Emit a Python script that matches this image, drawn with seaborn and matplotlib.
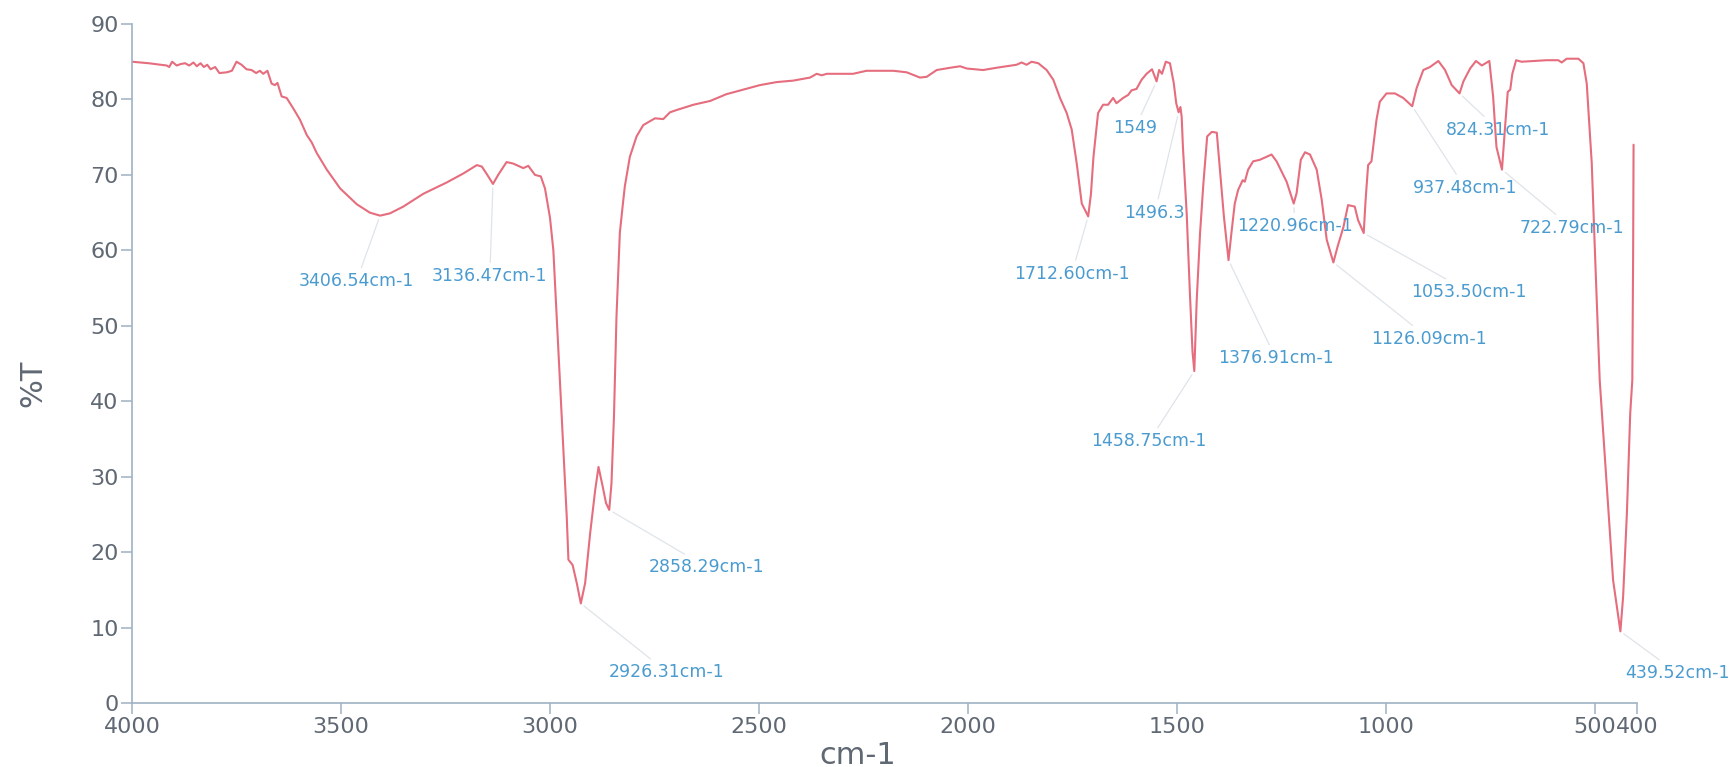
import matplotlib
matplotlib.use("Agg")
import matplotlib.pyplot as plt
import pandas as pd
import seaborn as sns

# FTIR transmittance spectrum (wavenumber in cm-1, %T)
wavenumber = [
    4000, 3960, 3917, 3911, 3904, 3893, 3883, 3873, 3863, 3853, 3845, 3836, 3828,
    3820, 3812, 3801, 3791, 3773, 3761, 3750, 3738, 3726, 3714, 3703, 3694, 3686,
    3676, 3666, 3658, 3652, 3642, 3630, 3614, 3598, 3582, 3570, 3558, 3534, 3502,
    3462, 3431, 3406.54, 3383, 3351, 3303, 3247, 3207, 3175, 3163, 3150, 3136.47,
    3124, 3104, 3088, 3076, 3064, 3052, 3036, 3022, 3012, 3000, 2992, 2984, 2976,
    2968, 2960, 2956, 2946, 2936, 2926.31, 2916, 2904, 2892, 2884, 2874, 2866,
    2858.29, 2853, 2847, 2841, 2833, 2826, 2821, 2809, 2793, 2777, 2749, 2729,
    2713, 2697, 2657, 2617, 2578, 2538, 2498, 2458, 2418, 2378, 2362, 2350, 2338,
    2275, 2243, 2179, 2147, 2115, 2099, 2075, 2043, 2019, 2003, 1964, 1932, 1884,
    1872, 1860, 1848, 1832, 1812, 1796, 1780, 1764, 1752, 1740, 1728, 1712.60,
    1706, 1700, 1689, 1677, 1665, 1653, 1645, 1629, 1617, 1609, 1597, 1585, 1573,
    1560, 1549, 1543, 1536, 1527, 1517, 1508, 1502, 1496.3, 1492, 1489, 1486,
    1477, 1469, 1463, 1458.75, 1453, 1445, 1437, 1428, 1417, 1405, 1398, 1388,
    1376.91, 1370, 1362, 1354, 1343, 1338, 1330, 1318, 1302, 1274, 1262, 1246,
    1238, 1220.96, 1214, 1204, 1194, 1182, 1166, 1154, 1142, 1126.09, 1116, 1102,
    1091, 1075, 1067, 1053.50, 1049, 1043, 1035, 1023, 1015, 999, 979, 959,
    937.48, 927, 911, 895, 875, 859, 843, 824.31, 815, 799, 785, 771, 753, 744,
    736, 722.79, 716, 709, 703, 698, 689, 676, 616, 588, 580, 568, 540, 528, 520,
    508, 500, 489, 473, 457, 439.52, 433, 424, 416, 411, 409, 408,
]
transmittance = [
    85.0, 84.8, 84.5, 84.3, 85.0, 84.5, 84.7, 84.8, 84.5, 84.9, 84.4, 84.8, 84.3,
    84.6, 84.0, 84.3, 83.5, 83.6, 83.8, 85.0, 84.6, 84.0, 83.9, 83.5, 83.8, 83.4,
    83.8, 82.1, 81.9, 82.2, 80.4, 80.2, 78.8, 77.3, 75.3, 74.3, 72.9, 70.7, 68.2,
    66.1, 65.0, 64.6, 64.9, 65.8, 67.5, 69.0, 70.2, 71.3, 71.1, 70.0, 68.8,
    70.0, 71.7, 71.5, 71.2, 70.9, 71.2, 70.0, 69.8, 68.2, 64.3, 60.0, 51.2, 42.4,
    33.5, 24.7, 19.0, 18.3, 15.9, 13.2, 15.9, 22.5, 28.2, 31.3, 28.7, 26.5,
    25.6, 29.1, 38.0, 51.2, 62.3, 66.0, 68.5, 72.4, 75.1, 76.6, 77.5, 77.4,
    78.3, 78.6, 79.3, 79.8, 80.7, 81.3, 81.9, 82.3, 82.5, 82.9, 83.4, 83.2, 83.4,
    83.4, 83.8, 83.8, 83.6, 82.9, 83.0, 83.9, 84.2, 84.4, 84.1, 83.9, 84.2, 84.6,
    84.9, 84.6, 85.0, 84.8, 83.9, 82.6, 80.2, 78.2, 76.0, 71.5, 66.2, 64.5,
    67.5, 72.4, 78.2, 79.3, 79.3, 80.2, 79.5, 80.2, 80.6, 81.2, 81.4, 82.6, 83.4,
    84.0, 82.4, 83.9, 83.4, 85.0, 84.8, 82.2, 79.5, 78.3, 79.0, 77.7, 73.7,
    64.9, 53.9, 46.5, 44.0, 53.4, 62.3, 68.9, 75.1, 75.7, 75.6, 71.1, 64.5,
    58.7, 62.3, 66.2, 68.0, 69.3, 69.1, 70.7, 71.8, 72.0, 72.7, 71.8, 70.0,
    69.1, 66.2, 67.6, 72.0, 73.0, 72.7, 70.7, 66.7, 61.4, 58.4, 60.5, 63.1,
    66.0, 65.8, 64.0, 62.3, 66.7, 71.3, 71.8, 77.3, 79.7, 80.8, 80.8, 80.2,
    79.1, 81.5, 83.9, 84.3, 85.1, 83.9, 81.9, 80.8, 82.4, 84.1, 85.1, 84.5, 85.1, 80.4,
    73.7, 70.7, 75.9, 81.0, 81.3, 83.4, 85.2, 85.0, 85.2, 85.2, 84.9, 85.4, 85.4, 84.8, 82.1,
    71.5, 59.2, 42.8, 29.6, 16.3, 9.5, 14.1, 25.1, 38.4, 42.8, 60.0, 74.0,
]

# Labelled absorption bands and where their labels sit (data coordinates)
peak_wavenumbers = [3406.54, 3136.47, 2926.31, 2858.29, 1712.60, 1549, 1496.3,
                    1458.75, 1376.91, 1220.96, 1126.09, 1053.50, 937.48, 824.31,
                    722.79, 439.52]
peak_texts = ["3406.54cm-1", "3136.47cm-1", "2926.31cm-1", "2858.29cm-1",
              "1712.60cm-1", "1549", "1496.3", "1458.75cm-1", "1376.91cm-1",
              "1220.96cm-1", "1126.09cm-1", "1053.50cm-1", "937.48cm-1",
              "824.31cm-1", "722.79cm-1", "439.52cm-1"]
label_wavenumbers = [3463, 3144, 2720, 2625, 1752, 1601, 1553, 1567, 1264, 1218,
                     897, 802, 811, 732, 556, 304]
label_transmittance = [55.9, 56.6, 4.1, 18.0, 56.9, 76.2, 65.0, 34.7, 45.7, 63.2,
                       48.3, 54.5, 68.3, 76.0, 63.0, 4.0]

x_ticks = [4000, 3500, 3000, 2500, 2000, 1500, 1000, 500, 400]
y_ticks = [0, 10, 20, 30, 40, 50, 60, 70, 80, 90]

line_color = "#e56d7d"
axis_color = "#9fb1c3"
tick_text_color = "#5f6873"
label_color = "#4a9bcf"
leader_color = "#dfe4e9"

sns.set_theme(style="white")
plt.rcParams["font.family"] = ["DejaVu Sans"]

fig = plt.figure(figsize=(17.32, 7.67), dpi=100)
ax = fig.add_axes([0.0762, 0.0834, 0.8689, 0.8853])

spectrum = pd.DataFrame({"wavenumber": wavenumber, "T": transmittance})
sns.lineplot(data=spectrum, x="wavenumber", y="T", ax=ax, color=line_color,
             linewidth=1.5, estimator=None, sort=False)

ax.set_xlim(4000, 400)
ax.set_ylim(0, 90)
ax.set_xticks(x_ticks)
ax.set_xticklabels([str(t) for t in x_ticks])
ax.set_yticks(y_ticks)

sns.despine(ax=ax)
for side in ("left", "bottom"):
    ax.spines[side].set_color(axis_color)
    ax.spines[side].set_linewidth(1.2)

ax.tick_params(axis="both", which="major", bottom=True, left=True, length=8,
               width=1.1, color=axis_color, labelsize=16, labelcolor=tick_text_color,
               direction="out")
ax.tick_params(axis="x", pad=2)
ax.tick_params(axis="y", pad=1.5)

ax.set_xlabel("cm-1", fontsize=22, color=tick_text_color, va="center")
ax.set_ylabel("%T", fontsize=22, color=tick_text_color, va="center")
ax.xaxis.set_label_coords(0.482, -0.077)
ax.yaxis.set_label_coords(-0.066, 0.471)

peak_lookup = dict(zip(wavenumber, transmittance))
for w, text, lx, ly in zip(peak_wavenumbers, peak_texts, label_wavenumbers,
                           label_transmittance):
    ax.annotate(text, xy=(w, peak_lookup[w]), xytext=(lx, ly),
                ha="center", va="center", fontsize=12.5, color=label_color,
                annotation_clip=False,
                arrowprops=dict(arrowstyle="-", color=leader_color, lw=0.9,
                                shrinkA=1, shrinkB=3))

fig.savefig("out.png", dpi=100, facecolor="white")
